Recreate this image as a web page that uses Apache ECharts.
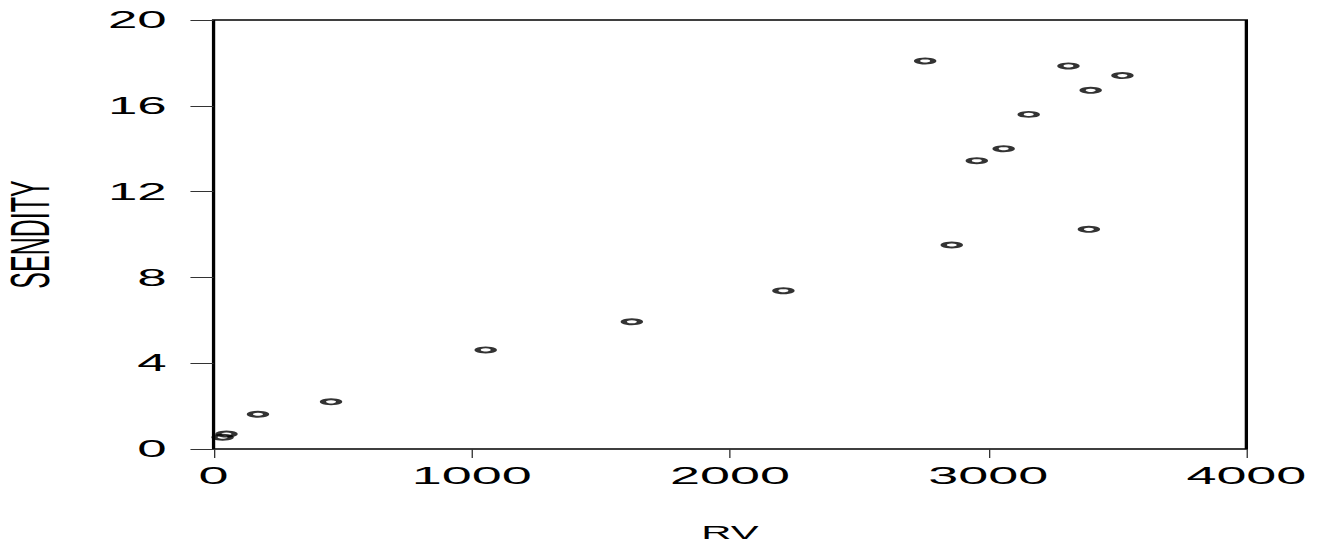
<!DOCTYPE html>
<html>
<head>
<meta charset="utf-8">
<script src="https://cdn.jsdelivr.net/npm/echarts@6/dist/echarts.min.js"></script>
<style>
  html, body { margin: 0; padding: 0; background: #ffffff; overflow: hidden; }
  #wrap { width: 1321px; height: 549px; overflow: hidden; }
  #chart { width: 600px; height: 549px; transform: scaleX(2.20167); transform-origin: 0 0; }
</style>
</head>
<body>
<div id="wrap"><div id="chart"></div></div>
<script>
// ---- data ----
const xName = 'RV';
const yName = 'SENDITY';
const xTicks = [0, 1000, 2000, 3000, 4000];
const yTicks = [0, 4, 8, 12, 16, 20];
const rvValues = [35, 50, 172, 455, 1054, 1620, 2207, 2756, 2859, 2956, 3060, 3157, 3311, 3397, 3390, 3520];
const sendityValues = [0.55, 0.7, 1.62, 2.2, 4.62, 5.93, 7.38, 18.09, 9.51, 13.44, 14.0, 15.6, 17.86, 16.72, 10.24, 17.41];

const points = rvValues.map((v, i) => [v, sendityValues[i]]);

const chart = echarts.init(document.getElementById('chart'), null, { renderer: 'svg' });
const font = 'Liberation Sans, Arial, Helvetica, sans-serif';
const plain = v => String(v);

chart.setOption({
  animation: false,
  backgroundColor: '#ffffff',
  grid: {
    left: 97, right: 33.9, top: 20, bottom: 100,
    containLabel: false,
    outerBoundsMode: 'none',
    show: true, borderColor: '#000000', borderWidth: 1.5, backgroundColor: 'transparent'
  },
  xAxis: {
    type: 'value',
    min: xTicks[0], max: xTicks[xTicks.length - 1],
    interval: xTicks[1] - xTicks[0],
    name: xName,
    nameLocation: 'middle',
    nameGap: 84,
    nameTextStyle: { color: '#000', fontFamily: font, fontSize: 19, verticalAlign: 'middle', lineHeight: 19 },
    axisLine: { show: false },
    axisTick: { show: true, inside: false, length: 9, lineStyle: { color: '#333', width: 0.6 } },
    axisLabel: { color: '#000', fontFamily: font, fontSize: 24.5, margin: 14, formatter: plain },
    splitLine: { show: false }
  },
  yAxis: {
    type: 'value',
    min: yTicks[0], max: yTicks[yTicks.length - 1],
    interval: yTicks[1] - yTicks[0],
    name: yName,
    nameLocation: 'middle',
    nameGap: 71,
    nameRotate: 90,
    nameTextStyle: { color: '#000', fontFamily: font, fontSize: 25 },
    axisLine: { show: false },
    axisTick: { show: true, inside: false, length: 10.5, lineStyle: { color: '#333', width: 1 } },
    axisLabel: { color: '#000', fontFamily: font, fontSize: 24, margin: 21.3, formatter: plain },
    splitLine: { show: false }
  },
  series: [{
    type: 'scatter',
    data: points,
    symbol: 'circle',
    symbolSize: [7.4, 5],
    itemStyle: { color: 'rgba(255,255,255,0)', borderColor: '#000000', borderWidth: 2.3 }
  }]
});
</script>
</body>
</html>
